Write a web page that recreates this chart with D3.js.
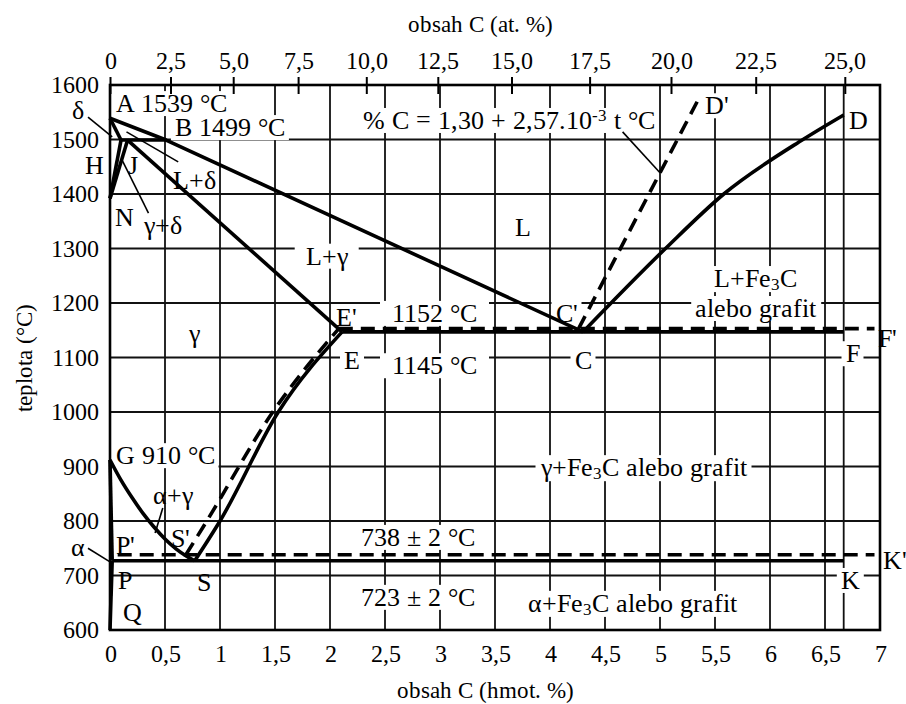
<!DOCTYPE html>
<html lang="sk">
<head>
<meta charset="utf-8">
<title>Diagram Fe-C</title>
<script src="https://cdn.jsdelivr.net/npm/d3@7"></script>
<style>
  @font-face {
    font-family: 'DiagSerif';
    src: local('Liberation Serif'), local('LiberationSerif'), local('LiberationSerif-Regular'),
         local('DejaVu Serif'), local('DejaVuSerif'), local('Times New Roman');
  }
  body { margin: 0; background: #fff; }
  svg text { font-family: 'DiagSerif', 'Liberation Serif', 'DejaVu Serif', serif; fill: #000; }
  .axis path { display: none; }
  .axis text { font-size: 24px; }
  .label { font-size: 26px; }
</style>
</head>
<body>
<script>

// ticks
const wtTicks = [0, 0.5, 1, 1.5, 2, 2.5, 3, 3.5, 4, 4.5, 5, 5.5, 6, 6.5, 7];
const atLabels = ['0', '2,5', '5,0', '7,5', '10,0', '12,5', '15,0', '17,5', '20,0', '22,5', '25,0'];
const atAsWt = [0, 0.55, 1.12, 1.71, 2.33, 2.98, 3.65, 4.36, 5.10, 5.87, 6.68];
const tempTicks = [600, 700, 800, 900, 1000, 1100, 1200, 1300, 1400, 1500, 1600];
const gridWt = [0.5, 1, 1.5, 2, 2.5, 3, 3.5, 4, 4.5, 5, 5.5, 6, 6.5, 6.67];
const gridTemp = [700, 800, 900, 1000, 1100, 1200, 1300, 1400, 1500];

// phase boundaries [hmot. % C, °C]
const lineABC = [[0, 1539], [0.51, 1499], [4.3, 1147]];
const lineCD = [[4.3, 1147], [5.05, 1300], [5.58, 1400], [6.3, 1500], [6.67, 1545]];
const lineAH = [[0, 1539], [0.1, 1499]];
const lineHB = [[0.1, 1499], [0.51, 1499]];
const lineHN = [[0.1, 1499], [0, 1392]];
const lineJN = [[0.16, 1499], [0, 1392]];
const lineJE = [[0.16, 1499], [2.11, 1147]];
const lineECF = [[2.11, 1147], [6.67, 1147]];
const lineES = [[0.77, 727], [1.0, 800], [1.53, 1000], [2.11, 1147]];
const lineGS = [[0, 912], [0.1, 875], [0.2, 843], [0.3, 814], [0.4, 789], [0.5, 767], [0.6, 749], [0.7, 735], [0.77, 727]];
const lineGP = [[0, 912], [0.02, 727]];
const linePQ = [[0.02, 727], [0, 600]];
const linePSK = [[0.02, 727], [6.67, 727]];
// stable system (graphite), dashed
const lineEFd = [[2.08, 1153], [6.95, 1153]];
const lineCDd = [[4.26, 1153], [5.36, 1578]];
const lineESd = [[0.69, 738], [0.88, 800], [1.48, 1000], [2.08, 1153]];
const linePKd = [[0.07, 738], [6.95, 738]];

// text in the diagram
const labels = [
  { t: 'A 1539 °C', wt: 0.05, c: 1567, a: 'start', box: true },
  { t: 'B 1499 °C', wt: 0.59, c: 1523, a: 'start', box: true },
  { t: 'δ', wt: -0.29, c: 1554, a: 'middle' },
  { t: 'H', wt: -0.14, c: 1453, a: 'middle' },
  { t: 'J', wt: 0.21, c: 1453, a: 'middle' },
  { t: 'N', wt: 0.13, c: 1358, a: 'middle' },
  { t: 'L+δ', wt: 0.77, c: 1426, a: 'middle' },
  { t: 'γ+δ', wt: 0.48, c: 1343, a: 'middle' },
  { t: 'L+γ', wt: 1.97, c: 1287, a: 'middle', box: true, px: 11 },
  { t: 'L', wt: 3.75, c: 1339, a: 'middle' },
  { t: '% C = 1,30 + 2,57.10^-3 t °C', wt: 2.3, c: 1536, a: 'start', box: true },
  { t: "D'", wt: 5.52, c: 1563, a: 'middle', box: true },
  { t: 'D', wt: 6.8, c: 1536, a: 'middle' },
  { t: 'L+Fe_3C', wt: 5.87, c: 1246, a: 'middle', box: true },
  { t: 'alebo grafit', wt: 5.87, c: 1191, a: 'middle', box: true },
  { t: '1152 °C', wt: 2.95, c: 1182, a: 'middle', box: true, px: 12 },
  { t: '1145 °C', wt: 2.95, c: 1086, a: 'middle', box: true, px: 12 },
  { t: "E'", wt: 2.15, c: 1174, a: 'middle', box: true },
  { t: 'E', wt: 2.2, c: 1095, a: 'middle', box: true },
  { t: "C'", wt: 4.15, c: 1182, a: 'middle', box: true },
  { t: 'C', wt: 4.3, c: 1095, a: 'middle', box: true },
  { t: "F'", wt: 7.07, c: 1136, a: 'middle' },
  { t: 'F', wt: 6.75, c: 1108, a: 'middle', box: true },
  { t: 'γ', wt: 0.77, c: 1145, a: 'middle' },
  { t: 'G 910 °C', wt: 0.05, c: 921, a: 'start', box: true },
  { t: 'α+γ', wt: 0.57, c: 848, a: 'middle' },
  { t: "P'", wt: 0.14, c: 756, a: 'middle', box: true },
  { t: "S'", wt: 0.64, c: 769, a: 'middle' },
  { t: 'P', wt: 0.14, c: 692, a: 'middle' },
  { t: 'S', wt: 0.85, c: 688, a: 'middle' },
  { t: 'Q', wt: 0.2, c: 633, a: 'middle' },
  { t: 'α', wt: -0.29, c: 752, a: 'middle' },
  { t: 'γ+Fe_3C alebo grafit', wt: 4.85, c: 899, a: 'middle', box: true },
  { t: '738 ± 2 °C', wt: 2.8, c: 771, a: 'middle', box: true, px: 12 },
  { t: '723 ± 2 °C', wt: 2.8, c: 661, a: 'middle', box: true, px: 12 },
  { t: 'α+Fe_3C alebo grafit', wt: 4.75, c: 650, a: 'middle', box: true, px: 12 },
  { t: 'K', wt: 6.73, c: 692, a: 'middle', box: true },
  { t: "K'", wt: 7.14, c: 728, a: 'middle' }
];
const leaders = [
  [[-0.2, 1541], [0.02, 1505]],
  [[0.62, 1459], [0.15, 1514]],
  [[0.35, 1365], [0.11, 1462]],
  [[4.66, 1514], [5.0, 1439]],
  [[0.48, 824], [0.41, 778]],
  [[-0.2, 750], [0, 725]]
];

const W = 906, H = 704;
const x = d3.scaleLinear().domain([0, 7]).range([110, 880]);
const y = d3.scaleLinear().domain([600, 1600]).range([630, 85]);

function draw() {
  const svg = d3.select('body').append('svg')
    .attr('width', W)
    .attr('height', H);

  // grid
  let grid = svg.append('g').attr('stroke', '#111').attr('stroke-width', 1.8);
  grid.selectAll('.vg').data(gridWt).enter().append('line')
    .attr('x1', d => x(d)).attr('x2', d => x(d))
    .attr('y1', y(600)).attr('y2', y(1600));
  grid.selectAll('.hg').data(gridTemp).enter().append('line')
    .attr('x1', x(0)).attr('x2', x(7))
    .attr('y1', d => y(d)).attr('y2', d => y(d));

  let boxLayer = svg.append('g');

  // frame
  svg.append('rect')
    .attr('x', x(0)).attr('y', y(1600))
    .attr('width', x(7) - x(0)).attr('height', y(600) - y(1600))
    .attr('fill', 'none').attr('stroke', '#000').attr('stroke-width', 2.6);

  // phase lines
  let line = d3.line().x(d => x(d[0])).y(d => y(d[1]));
  let curve = d3.line().x(d => x(d[0])).y(d => y(d[1])).curve(d3.curveMonotoneX);

  let solid = [lineABC, lineAH, lineHB, lineHN, lineJN, lineJE, lineECF, lineGP, linePQ, linePSK];
  let solidCurved = [lineCD, lineES, lineGS];
  let dashed = [lineEFd, lineCDd, linePKd];
  let dashedCurved = [lineESd];

  let phases = svg.append('g')
    .attr('fill', 'none').attr('stroke', '#000')
    .attr('stroke-width', 3.6).attr('stroke-linejoin', 'round');
  phases.selectAll('.s').data(solid).enter().append('path').attr('d', line);
  phases.selectAll('.sc').data(solidCurved).enter().append('path').attr('d', curve);
  phases.selectAll('.d').data(dashed).enter().append('path').attr('d', line)
    .attr('stroke-dasharray', '14,8');
  phases.selectAll('.dc').data(dashedCurved).enter().append('path').attr('d', curve)
    .attr('stroke-dasharray', '14,8');

  svg.append('g').attr('stroke', '#000').attr('stroke-width', 1.6)
    .selectAll('line').data(leaders).enter().append('line')
    .attr('x1', d => x(d[0][0])).attr('y1', d => y(d[0][1]))
    .attr('x2', d => x(d[1][0])).attr('y2', d => y(d[1][1]));

  // labels, Fe_3C -> subscript, 10^-3 -> superscript
  function rich(sel, str) {
    str.split(/(_\d|\^-?\d)/).filter(s => s.length).forEach(p => {
      if (p[0] === '_') {
        sel.append('tspan').attr('baseline-shift', '-18%').style('font-size', '17px').text(p.slice(1));
      } else if (p[0] === '^') {
        sel.append('tspan').attr('baseline-shift', '45%').style('font-size', '17px').text(p.slice(1));
      } else {
        sel.append('tspan').text(p);
      }
    });
  }

  let lab = svg.append('g').selectAll('text').data(labels).enter().append('text')
    .attr('class', 'label')
    .attr('x', d => x(d.wt))
    .attr('y', d => y(d.c))
    .attr('dy', '0.35em')
    .attr('text-anchor', d => d.a)
    .each(function (d) { rich(d3.select(this), d.t); });

  lab.filter(d => d.box).each(function (d) {
    let b = this.getBBox(), px = d.px || 4;
    boxLayer.append('rect')
      .attr('x', b.x - px).attr('y', b.y + 2)
      .attr('width', b.width + 2 * px).attr('height', b.height - 4)
      .attr('fill', '#fff');
  });

  // axes
  let fmt = d => String(d).replace('.', ',');

  svg.append('g').attr('class', 'axis')
    .attr('transform', `translate(0,${y(600)})`)
    .call(d3.axisBottom(x).tickValues(wtTicks).tickSize(0).tickPadding(15).tickFormat(fmt));

  let topAxis = svg.append('g').attr('class', 'axis')
    .attr('transform', `translate(0,${y(1600)})`)
    .call(d3.axisTop(x).tickValues(atAsWt).tickSize(8).tickPadding(8).tickFormat((d, i) => atLabels[i]));
  topAxis.selectAll('.tick line').attr('stroke-width', 2).attr('y2', -8);
  topAxis.selectAll('.tick').append('line')
    .attr('y1', 0).attr('y2', 9)
    .attr('stroke', '#000').attr('stroke-width', 2);

  svg.append('g').attr('class', 'axis')
    .attr('transform', `translate(${x(0)},0)`)
    .call(d3.axisLeft(y).tickValues(tempTicks).tickSize(0).tickPadding(11).tickFormat(d3.format('d')));

  // axis titles
  svg.append('text')
    .attr('x', 480).attr('y', 24).attr('dy', '0.35em')
    .attr('text-anchor', 'middle').style('font-size', '23px')
    .text('obsah C (at. %)');
  svg.append('text')
    .attr('x', 485).attr('y', 690).attr('dy', '0.35em')
    .attr('text-anchor', 'middle').style('font-size', '23px')
    .text('obsah C (hmot. %)');
  svg.append('text')
    .attr('transform', `translate(24,${(y(600) + y(1600)) / 2}) rotate(-90)`)
    .attr('dy', '0.35em')
    .attr('text-anchor', 'middle').style('font-size', '23px')
    .text('teplota (°C)');
}

document.fonts.load('25px DiagSerif').then(draw, draw);

</script>
</body>
</html>
